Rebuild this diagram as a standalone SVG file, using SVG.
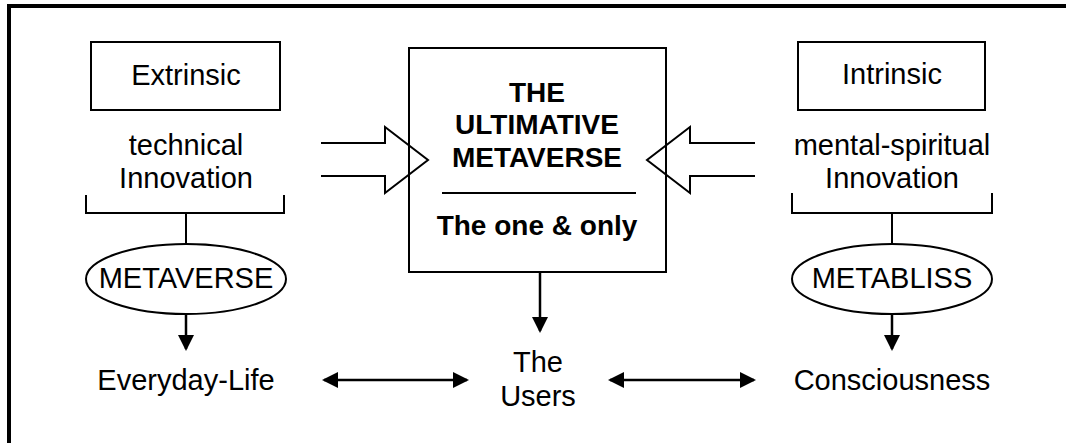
<svg xmlns="http://www.w3.org/2000/svg" width="1066" height="443" viewBox="0 0 1066 443">
<defs>
<style>
text{font-family:"Liberation Sans",Arial,sans-serif;fill:#000}
.n{font-size:29px;text-anchor:middle}
.b{font-size:28px;font-weight:bold;text-anchor:middle}
.box{fill:#fff;stroke:#000;stroke-width:2}
.ln{fill:none;stroke:#000;stroke-width:2}
.ar{fill:none;stroke:#000;stroke-width:2.5}
</style>
<marker id="ah" viewBox="0 0 16 16" refX="14" refY="8" markerWidth="16" markerHeight="16" markerUnits="userSpaceOnUse" orient="auto-start-reverse">
<path d="M0,0 L16,8 L0,16 z" fill="#000"/>
</marker>
</defs>
<rect width="1066" height="443" fill="#fff"/>
<g id="frame">
<line x1="7" y1="6" x2="1066" y2="6" stroke="#000" stroke-width="4"/>
<line x1="9" y1="4" x2="9" y2="443" stroke="#000" stroke-width="4"/>
</g>
<g id="extrinsic">
<rect class="box" x="91" y="42" width="189" height="68"/>
<text class="n" x="186" y="85">Extrinsic</text>
</g>
<g id="technical">
<text class="n" x="186" y="155">technical</text>
<text class="n" x="186" y="188">Innovation</text>
</g>
<g id="metaverse">
<ellipse class="ln" cx="186" cy="279" rx="100" ry="35"/>
<text class="n" x="186" y="288">METAVERSE</text>
</g>
<g id="everyday">
<text class="n" x="186" y="390">Everyday-Life</text>
</g>
<g id="center">
<rect class="box" x="409" y="48" width="257" height="224"/>
<text class="b" x="537" y="102">THE</text>
<text class="b" x="537" y="134">ULTIMATIVE</text>
<text class="b" x="537" y="167">METAVERSE</text>
<line class="ln" x1="442" y1="193" x2="636" y2="193"/>
<text class="b" x="537" y="235">The one &amp; only</text>
</g>
<g id="users">
<text class="n" x="538" y="372">The</text>
<text class="n" x="538" y="406">Users</text>
</g>
<g id="intrinsic">
<rect class="box" x="798" y="42" width="187" height="68"/>
<text class="n" x="892" y="84">Intrinsic</text>
</g>
<g id="mental">
<text class="n" x="892" y="155">mental-spiritual</text>
<text class="n" x="892" y="188">Innovation</text>
</g>
<g id="metabliss">
<ellipse class="ln" cx="892" cy="279" rx="100" ry="35"/>
<text class="n" x="892" y="288">METABLISS</text>
</g>
<g id="consciousness">
<text class="n" x="892" y="390">Consciousness</text>
</g>
<g id="connectors">
<polyline class="ln" points="321,143 385,143 385,127 428,160 385,193 385,176 321,176"/>
<polyline class="ln" points="755,143 690,143 690,127 647,160 690,193 690,176 755,176"/>
<polyline class="ln" points="86,195 86,213 284,213 284,195"/>
<line class="ln" x1="186" y1="213" x2="186" y2="244"/>
<polyline class="ln" points="792,193 792,213 992,213 992,193"/>
<line class="ln" x1="892" y1="213" x2="892" y2="244"/>
<line class="ar" x1="186" y1="314" x2="186" y2="349" marker-end="url(#ah)"/>
<line class="ar" x1="892" y1="314" x2="892" y2="349" marker-end="url(#ah)"/>
<line class="ar" x1="540" y1="272" x2="540" y2="331" marker-end="url(#ah)"/>
<line class="ar" x1="324" y1="380" x2="467" y2="380" marker-start="url(#ah)" marker-end="url(#ah)"/>
<line class="ar" x1="610" y1="380" x2="754" y2="380" marker-start="url(#ah)" marker-end="url(#ah)"/>
</g>
</svg>
